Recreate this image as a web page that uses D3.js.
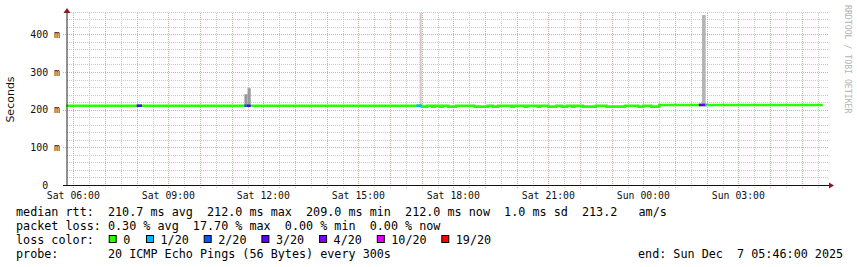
<!DOCTYPE html>
<html><head><meta charset="utf-8">
<script src="https://cdn.jsdelivr.net/npm/d3@7"></script>
<style>
html,body{margin:0;padding:0;background:#fff;}
svg{display:block;}
text{white-space:pre;}
</style></head><body>
<svg id="c" width="857" height="267"></svg>
<script>
// ---------- data ----------
const rangeStart = "Sat 05:46";
const rangeEnd = "Sun 05:46";
const dataEnd = "Sun 05:40";
// median rtt (ms), each value holds from its start until the next start
const stepStarts = ["Sat 05:46","Sat 17:00","Sat 17:10","Sat 17:20","Sat 17:25","Sat 17:35","Sat 17:40","Sat 17:50",
  "Sat 18:05","Sat 18:40","Sat 19:05","Sat 19:15","Sat 19:25","Sat 19:50","Sat 19:55","Sat 20:15","Sat 20:20",
  "Sat 20:40","Sat 20:45","Sat 21:00","Sat 21:15","Sat 21:25","Sat 21:35","Sat 21:45","Sat 21:50","Sat 22:05",
  "Sat 22:30","Sat 22:50","Sat 23:25","Sat 23:50","Sun 00:00","Sun 00:15","Sun 00:30"];
const stepMs = [210.5,208,210.5,208,210.5,208,210.5,208,
  210.5,208,210.5,208,210.5,208,210.5,208,210.5,
  208,210.5,208,210.5,208,210.5,208,210.5,208,
  210.5,208,210.5,208,210.5,208,212.5];
// packet loss runs (level = pings lost out of 20)
const lossStarts = ["Sat 08:00","Sat 11:24","Sat 11:28","Sat 16:50","Sun 01:45","Sun 01:57"];
const lossEnds   = ["Sat 08:10","Sat 11:28","Sat 11:36","Sat 17:00","Sun 01:57","Sun 02:00"];
const lossLevels = [3,2,3,1,3,1];
// smoke (spread of the 20 pings), ms top
const smokeStarts = ["Sat 11:24","Sat 11:30","Sat 16:56","Sun 01:51"];
const smokeEnds   = ["Sat 11:30","Sat 11:36","Sat 17:00","Sun 01:58"];
const smokeTopMs  = [241,257,457,451];
const smokeShades = ["#9a9a9a","#9a9a9a","#cdcdcd","#b4b4b4"];
// legend
const lossLegendLabels = ["0","1/20","2/20","3/20","4/20","10/20","19/20"];
const lossLegendColors = ["#26ff00","#00b8ff","#0059ff","#5e00ff","#7e00ff","#dd00ff","#ff0000"];
const yTickValues = [0,0.1,0.2,0.3,0.4];
const xLabelTimes = ["Sat 06:00","Sat 09:00","Sat 12:00","Sat 15:00","Sat 18:00","Sat 21:00","Sun 00:00","Sun 03:00"];
const statsLine1 = "median rtt:  210.7 ms avg  212.0 ms max  209.0 ms min  212.0 ms now  1.0 ms sd  213.2   am/s";
const statsLine2 = "packet loss: 0.30 % avg  17.70 % max  0.00 % min  0.00 % now";
const lossLine = "loss color:";
const probeLine = "probe:       20 ICMP Echo Pings (56 Bytes) every 300s";
const endLine = "end: Sun Dec  7 05:46:00 2025";
const yTitle = "Seconds";
const watermark = "RRDTOOL / TOBI OETIKER";

// ---------- helpers ----------
function T(s){const [d,hm]=s.split(" ");const [h,m]=hm.split(":").map(Number);return new Date(2025,11,d==="Sat"?6:7,h,m);}
const svg = d3.select("#c");
const mono = "'DejaVu Sans Mono', monospace";
const x = d3.scaleTime().domain([T(rangeStart),T(rangeEnd)]).range([66,826]);
const y = d3.scaleLinear().domain([0,0.46]).range([185,185-0.46*376.7]);
const cx = v => Math.round(v)+0.5;

// ---------- grid ----------
const g = svg.append("g");
const minorY = d3.range(1,24).map(i=>i*0.02).filter(v=>Math.abs(v*10-Math.round(v*10))>1e-6);
g.selectAll(".hmin").data(minorY).join("line")
 .attr("x1",67).attr("x2",829).attr("y1",d=>cx(y(d))).attr("y2",d=>cx(y(d)))
 .attr("stroke","#c9c9c9").attr("stroke-dasharray","1,1");
const halfHours = d3.timeMinute.every(30).range(T(rangeStart),T(rangeEnd)).filter(d=>d.getMinutes()===30);
g.selectAll(".vmin").data(halfHours).join("line")
 .attr("x1",d=>cx(x(d))).attr("x2",d=>cx(x(d))).attr("y1",13).attr("y2",188)
 .attr("stroke","#c9c9c9").attr("stroke-dasharray","1,1");
const hours = d3.timeHour.every(1).range(T(rangeStart),T(rangeEnd));
g.selectAll(".vmaj").data(hours).join("line")
 .attr("x1",d=>cx(x(d))).attr("x2",d=>cx(x(d))).attr("y1",13).attr("y2",188)
 .attr("stroke","#e6a3a3").attr("stroke-dasharray","1,1");
g.selectAll(".hmaj").data(yTickValues.filter(v=>v>0)).join("line")
 .attr("x1",63).attr("x2",829).attr("y1",d=>cx(y(d))).attr("y2",d=>cx(y(d)))
 .attr("stroke","#e6a3a3").attr("stroke-dasharray","1,1");

// ---------- smoke ----------
const medianAt = t => { let v=stepMs[0]; stepStarts.forEach((s,i)=>{ if(T(s)<=t) v=stepMs[i]; }); return v; };
svg.append("g").selectAll("rect").data(smokeStarts).join("rect")
 .attr("x",(d,i)=>x(T(d))).attr("width",(d,i)=>x(T(smokeEnds[i]))-x(T(d)))
 .attr("y",(d,i)=>y(smokeTopMs[i]/1000))
 .attr("height",(d,i)=>y(medianAt(T(d))/1000)-y(smokeTopMs[i]/1000))
 .attr("fill",(d,i)=>smokeShades[i]);

// ---------- median line ----------
const pts = stepStarts.map((s,i)=>[T(s),stepMs[i]]);
pts.push([T(dataEnd),stepMs[stepMs.length-1]]);
const line = d3.line().x(d=>x(d[0])).y(d=>y(d[1]/1000)).curve(d3.curveStepAfter);
svg.append("path").attr("d",line(pts)).attr("fill","none").attr("stroke",lossLegendColors[0]).attr("stroke-width",2.6);
const lossIdx = {1:1,2:2,3:3,4:4,10:5,19:6};
svg.append("g").selectAll("line").data(lossStarts).join("line")
 .attr("x1",d=>x(T(d))).attr("x2",(d,i)=>x(T(lossEnds[i])))
 .attr("y1",d=>y(medianAt(T(d))/1000)).attr("y2",d=>y(medianAt(T(d))/1000))
 .attr("stroke",(d,i)=>lossLegendColors[lossIdx[lossLevels[i]]]).attr("stroke-width",2.6);

// ---------- axes ----------
svg.append("line").attr("x1",67).attr("x2",67).attr("y1",185).attr("y2",12).attr("stroke","#222");
svg.append("line").attr("x1",63).attr("x2",830).attr("y1",185.5).attr("y2",185.5).attr("stroke","#111");
svg.append("path").attr("d","M67,8L63.5,13L70.5,13Z").attr("fill","#8b1c1c");
svg.append("path").attr("d","M834,185.5L829,182.5L829,188.5Z").attr("fill","#8b1c1c");

// tick labels
svg.append("g").selectAll("text").data(yTickValues).join("text")
 .attr("x",60).attr("y",d=>y(d)+3.6).attr("text-anchor","end")
 .attr("font-family",mono).attr("font-size","9.9px").attr("fill","#111")
 .text(d=>d===0?"0  ":d3.format(".0f")(d*1000)+" m");
svg.append("g").selectAll("text").data(xLabelTimes).join("text")
 .attr("x",d=>x(T(d))).attr("y",198.6).attr("text-anchor","middle")
 .attr("font-family",mono).attr("font-size","9.8px").attr("fill","#111")
 .text(d=>d3.timeFormat("%a %H:%M")(T(d)));

// axis title & watermark
svg.append("text").attr("transform","translate(14,99.5) rotate(-90)").attr("text-anchor","middle")
 .attr("font-family","'DejaVu Sans', sans-serif").attr("font-size","11px").attr("fill","#111").text(yTitle);
svg.append("text").attr("transform","translate(844.5,5) rotate(90)").attr("text-anchor","start")
 .attr("font-family",mono).attr("font-size","8.2px").attr("fill","#b3b3b3").text(watermark);

// ---------- legend ----------
const leg = svg.append("g").attr("font-family",mono).attr("font-size","11.75px").attr("fill","#000");
leg.append("text").attr("x",16).attr("y",215.5).text(statsLine1);
leg.append("text").attr("x",16).attr("y",229.5).text(statsLine2);
leg.append("text").attr("x",16).attr("y",243.5).text(lossLine);
leg.append("text").attr("x",16).attr("y",257.5).text(probeLine);
leg.append("text").attr("x",638).attr("y",257.5).text(endLine);
let bx = 108.7;
lossLegendLabels.forEach((lab,i)=>{
  leg.append("rect").attr("x",bx+0.5).attr("y",235.5).attr("width",7).attr("height",7)
    .attr("fill",lossLegendColors[i]).attr("stroke","#000").attr("stroke-width",1);
  leg.append("text").attr("x",bx+14.5).attr("y",243.5).text(lab);
  bx += 30.5 + lab.length*6.8;
});
</script>
</body></html>
